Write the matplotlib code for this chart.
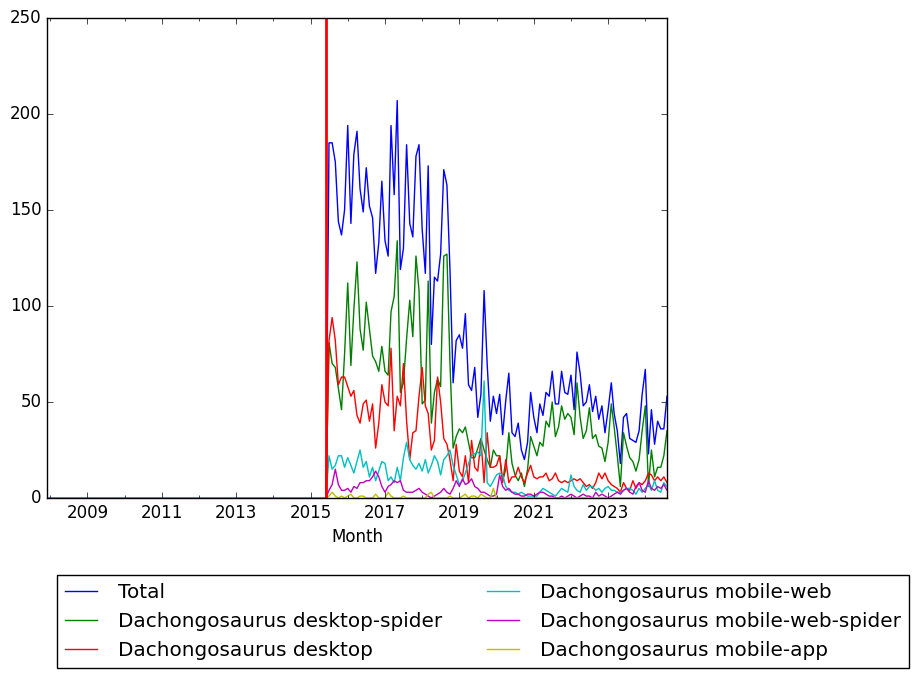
import datetime as dt
import numpy as np
import pandas as pd
import matplotlib
matplotlib.use("Agg")
import matplotlib.pyplot as plt

plt.style.use("classic")

# ---- data: monthly page views, 2007-12 .. 2024-08 ----
months = pd.date_range("2007-12-01", "2024-08-01", freq="MS")

# 2007-12 .. 2015-06 : nothing recorded
lead_zeros = [0] * 91
data_start = dt.datetime(2015, 6, 1)

# 2015-07 .. 2024-08
total = [185, 185, 175, 144, 137, 150, 194, 143, 179, 191, 161, 149,
         172, 152, 146, 117, 133, 165, 134, 126, 194, 158, 207, 119,
         130, 184, 143, 136, 178, 184, 140, 117, 173, 80, 115, 113,
         127, 171, 163, 119, 60, 82, 85, 78, 96, 59, 56, 68,
         42, 54, 108, 70, 40, 53, 44, 54, 33, 51, 65, 34,
         32, 39, 25, 20, 29, 55, 42, 34, 49, 43, 55, 53,
         66, 49, 49, 66, 55, 54, 64, 46, 76, 65, 48, 50,
         59, 45, 53, 41, 48, 34, 46, 60, 44, 35, 18, 42,
         44, 31, 30, 29, 35, 54, 67, 23, 46, 28, 40, 36,
         36, 53]
desktop_spider = [81, 70, 68, 57, 46, 75, 112, 69, 98, 123, 88, 77,
                  102, 88, 74, 71, 66, 79, 66, 64, 97, 105, 134, 55,
                  60, 83, 103, 84, 126, 108, 49, 51, 113, 39, 55, 62,
                  58, 126, 127, 70, 26, 32, 36, 34, 37, 29, 21, 21,
                  26, 31, 25, 20, 16, 25, 22, 22, 9, 15, 34, 18,
                  12, 9, 13, 6, 15, 32, 27, 22, 29, 27, 40, 37,
                  50, 32, 37, 48, 41, 44, 42, 33, 60, 42, 31, 35,
                  47, 31, 33, 27, 26, 19, 29, 49, 37, 22, 6, 34,
                  27, 21, 19, 14, 20, 35, 48, 6, 25, 11, 16, 16,
                  22, 35]
desktop = [82, 94, 82, 59, 63, 63, 58, 53, 56, 43, 39, 49,
           51, 40, 49, 26, 39, 59, 50, 48, 78, 35, 53, 48,
           70, 40, 20, 34, 35, 53, 68, 48, 44, 25, 30, 63,
           50, 31, 28, 20, 9, 28, 14, 11, 22, 8, 30, 16,
           14, 30, 8, 34, 16, 16, 17, 22, 8, 20, 8, 11,
           11, 16, 11, 8, 13, 17, 11, 10, 11, 11, 13, 9,
           10, 13, 9, 8, 9, 8, 9, 10, 9, 10, 8, 6,
           7, 5, 8, 13, 10, 13, 9, 7, 6, 5, 3, 8,
           5, 4, 9, 5, 8, 7, 9, 13, 12, 9, 11, 9,
           11, 8]
mobile_web = [22, 15, 17, 22, 22, 16, 21, 17, 13, 19, 25, 16,
              19, 11, 16, 9, 14, 19, 18, 9, 11, 8, 16, 9,
              21, 29, 20, 17, 15, 18, 14, 20, 13, 17, 22, 19,
              12, 20, 22, 25, 17, 12, 7, 9, 13, 18, 22, 23,
              24, 22, 61, 8, 6, 9, 12, 13, 12, 6, 4, 3,
              3, 2, 3, 2, 1, 1, 1, 1, 3, 5, 4, 3,
              2, 1, 3, 5, 4, 3, 12, 6, 4, 3, 7, 4,
              6, 6, 4, 5, 3, 5, 6, 4, 4, 3, 3, 4,
              5, 5, 4, 2, 5, 3, 5, 7, 4, 9, 4, 3,
              8, 6]
mobile_web_spider = [4, 7, 15, 7, 4, 4, 5, 3, 6, 5, 8, 8,
                     9, 9, 11, 14, 11, 6, 3, 6, 7, 9, 8, 9,
                     4, 3, 3, 3, 4, 5, 3, 2, 1, 0, 1, 2,
                     3, 5, 3, 2, 5, 9, 6, 10, 7, 8, 10, 6,
                     5, 3, 3, 2, 1, 1, 2, 12, 6, 4, 5, 3,
                     2, 2, 1, 1, 2, 2, 1, 2, 3, 3, 2, 1,
                     1, 0, 0, 1, 0, 1, 2, 1, 0, 1, 2, 1,
                     1, 0, 3, 1, 2, 1, 0, 1, 2, 3, 2, 4,
                     5, 3, 2, 6, 8, 4, 3, 9, 5, 4, 6, 5,
                     7, 4]
mobile_app = [1, 3, 1, 0, 1, 0, 1, 2, 0, 0, 1, 1,
              0, 0, 0, 2, 0, 0, 0, 3, 1, 0, 0, 0,
              1, 0, 0, 0, 0, 0, 0, 0, 2, 3, 0, 0,
              0, 0, 0, 1, 0, 0, 0, 1, 2, 0, 1, 1,
              0, 2, 1, 0, 0, 5, 0, 0, 0, 0, 0, 0,
              0, 0, 0, 0, 0, 0, 0, 0, 0, 0, 0, 0,
              0, 0, 0, 0, 0, 0, 0, 0, 0, 0, 0, 0,
              0, 0, 0, 0, 0, 0, 0, 0, 0, 0, 0, 0,
              0, 0, 0, 0, 0, 0, 0, 0, 0, 0, 0, 0,
              0, 0]

labels = ["Total",
          "Dachongosaurus desktop-spider",
          "Dachongosaurus desktop",
          "Dachongosaurus mobile-web",
          "Dachongosaurus mobile-web-spider",
          "Dachongosaurus mobile-app"]
series = [total, desktop_spider, desktop, mobile_web, mobile_web_spider, mobile_app]
colors = ["b", "g", "r", "c", "m", "y"]

# ---- plot ----
fig = plt.figure(figsize=(9.2, 6.79), dpi=100, facecolor="white")
ax = fig.add_axes([47 / 920, 1 - 498 / 679, 620 / 920, 480 / 679])

for vals, lab, col in zip(series, labels, colors):
    y = np.array(lead_zeros + vals, dtype=float)
    ax.plot(months, y, color=col, lw=1.0, label=lab)

# start of the recorded data
ax.axvline(data_start, color="r", lw=2.0)

ax.set_ylim(0, 250)
ax.set_xlim(months[0], months[-1])

major = [dt.datetime(y, 1, 1) for y in range(2009, 2025, 2)]
minor = [dt.datetime(y, 1, 1) for y in range(2008, 2025, 2)]
ax.set_xticks(major)
ax.set_xticklabels([str(d.year) for d in major])
ax.set_xticks(minor, minor=True)
ax.set_yticks([0, 50, 100, 150, 200, 250])
ax.set_xlabel("Month")

ax.legend(loc="upper left", bbox_to_anchor=(57 / 920, 1 - 575 / 679),
          bbox_transform=fig.transFigure, ncol=2, fontsize="large",
          numpoints=1, borderaxespad=0, handlelength=1.6,
          handletextpad=1.05, columnspacing=2.25, borderpad=0.4)

fig.savefig("out.png", dpi=100, facecolor="white")
